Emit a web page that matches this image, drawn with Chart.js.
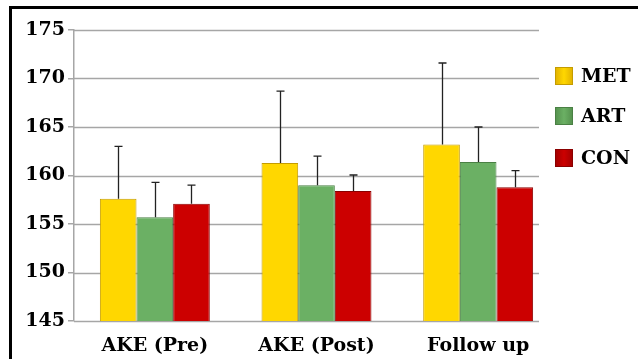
<!DOCTYPE html>
<html>
<head>
<meta charset="utf-8">
<script src="https://cdn.jsdelivr.net/npm/chart.js@4/dist/chart.umd.min.js"></script>
<style>
  html, body { margin: 0; padding: 0; background: #fff; }
  #wrap { position: relative; width: 638px; height: 359px; overflow: hidden; }
  #frame { position: absolute; left: 9px; top: 6px; width: 700px; height: 400px; border: 3px solid #000; box-sizing: border-box; }
  canvas { position: absolute; left: 0; top: 0; }
</style>
</head>
<body>
<div id="wrap">
  <div id="frame"></div>
  <canvas id="myChart" width="638" height="359"></canvas>
</div>
<script>
// categories and groups
var categories = ["AKE (Pre)", "AKE (Post)", "Follow up"];
var groups = ["MET", "ART", "CON"];

// means
var metMean = [157.6, 161.3, 163.2];
var artMean = [155.7, 159.0, 161.4];
var conMean = [157.1, 158.4, 158.8];

// standard deviations (upper whisker only)
var metSD = [5.4, 7.4, 8.4];
var artSD = [3.6, 3.0, 3.6];
var conSD = [1.9, 1.65, 1.7];

var yTicks = [145, 150, 155, 160, 165, 170, 175];

var colours = {
  MET: { main: "#FFD700", edge: "#E0B000", border: "#C49C00" },
  ART: { main: "#6BB064", edge: "#54904D", border: "#4A8044" },
  CON: { main: "#CC0000", edge: "#A00000", border: "#8A0000" }
};

var fontFam = "'DejaVu Serif', serif";

function barFill(name) {
  return function (ctx) {
    var el = ctx.element;
    var c = colours[name];
    if (!el || el.width == null || isNaN(el.x)) return c.main;
    var g = ctx.chart.ctx.createLinearGradient(el.x - el.width / 2, 0, el.x + el.width / 2, 0);
    g.addColorStop(0, c.edge);
    g.addColorStop(0.12, c.main);
    g.addColorStop(0.88, c.main);
    g.addColorStop(1, c.edge);
    return g;
  };
}

var means = [metMean, artMean, conMean];
var sds = [metSD, artSD, conSD];

var datasets = groups.map(function (g, i) {
  return {
    label: g,
    data: means[i],
    sd: sds[i],
    backgroundColor: barFill(g),
    borderColor: colours[g].border,
    borderWidth: 1,
    barPercentage: 1.0,
    categoryPercentage: 0.68
  };
});

// horizontal grid lines stop short of the category area (like the original)
var gridPlugin = {
  id: "gridLines",
  beforeDatasetsDraw: function (chart) {
    var ctx = chart.ctx, y = chart.scales.y, area = chart.chartArea;
    var right = area.right - 20;
    ctx.save();
    ctx.strokeStyle = "#A6A6A6";
    ctx.lineWidth = 1.5;
    y.ticks.forEach(function (t) {
      var py = Math.round(y.getPixelForValue(t.value)) + 0.5;
      ctx.beginPath();
      ctx.moveTo(area.left, py);
      ctx.lineTo(right, py);
      ctx.stroke();
    });
    ctx.restore();
  }
};

var errorPlugin = {
  id: "errorBars",
  afterDatasetsDraw: function (chart) {
    var ctx = chart.ctx, y = chart.scales.y;
    ctx.save();
    ctx.strokeStyle = "#222";
    ctx.lineWidth = 1.3;
    chart.data.datasets.forEach(function (ds, i) {
      var meta = chart.getDatasetMeta(i);
      meta.data.forEach(function (bar, j) {
        var top = y.getPixelForValue(ds.data[j] + ds.sd[j]);
        var x = Math.round(bar.x) + 0.5;
        ctx.beginPath();
        ctx.moveTo(x, bar.y);
        ctx.lineTo(x, top);
        ctx.moveTo(x - 4, top);
        ctx.lineTo(x + 4, top);
        ctx.stroke();
      });
    });
    ctx.restore();
  }
};

var legendPlugin = {
  id: "sideLegend",
  afterDraw: function (chart) {
    var ctx = chart.ctx;
    var x0 = chart.chartArea.right - 4;
    var rowY = [76, 116, 158];
    ctx.save();
    ctx.font = "bold 19px " + fontFam;
    ctx.textBaseline = "middle";
    chart.data.datasets.forEach(function (ds, i) {
      var c = colours[ds.label];
      var yc = rowY[i];
      var g = ctx.createLinearGradient(x0, 0, x0 + 18, 0);
      g.addColorStop(0, c.edge);
      g.addColorStop(0.5, c.main);
      g.addColorStop(1, c.edge);
      ctx.fillStyle = g;
      ctx.fillRect(x0, yc - 9, 18, 18);
      ctx.strokeStyle = c.border;
      ctx.lineWidth = 1;
      ctx.strokeRect(x0 + 0.5, yc - 8.5, 17, 17);
      ctx.fillStyle = "#000";
      ctx.fillText(ds.label, x0 + 26, yc + 1);
    });
    ctx.restore();
  }
};

var ctx = document.getElementById("myChart").getContext("2d");
var chart = new Chart(ctx, {
  type: "bar",
  data: { labels: categories, datasets: datasets },
  plugins: [gridPlugin, errorPlugin, legendPlugin],
  options: {
    responsive: false,
    animation: false,
    layout: { padding: { left: 0, right: 79, top: 30, bottom: 0 } },
    plugins: { legend: { display: false }, tooltip: { enabled: false } },
    scales: {
      x: {
        grid: { display: false, drawTicks: false },
        border: { display: false },
        ticks: { color: "#000", padding: 14, font: { family: fontFam, size: 19, weight: "bold" } },
        afterFit: function (s) { s.height = 38; }
      },
      y: {
        min: 145,
        max: 175,
        afterBuildTicks: function (s) { s.ticks = yTicks.map(function (v) { return { value: v }; }); },
        grid: { drawOnChartArea: false, drawTicks: true, tickLength: 6, color: "#A6A6A6", lineWidth: 1.5 },
        border: { display: true, color: "#A6A6A6", width: 1.5 },
        ticks: { color: "#000", padding: 3, font: { family: fontFam, size: 19, weight: "bold" } },
        afterFit: function (s) { s.width = 74; }
      }
    }
  }
});
</script>
</body>
</html>
